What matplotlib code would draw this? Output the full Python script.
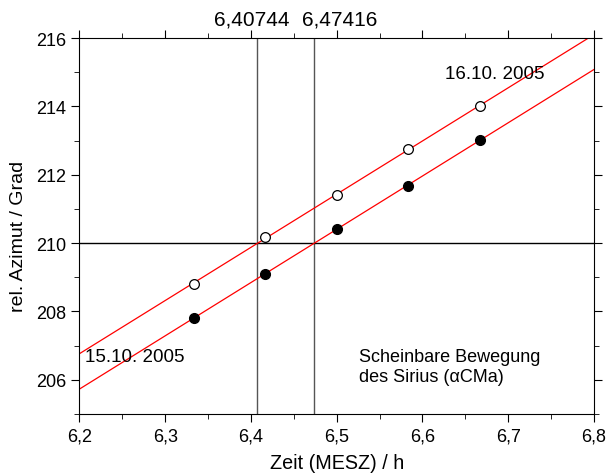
import numpy as np
import matplotlib.pyplot as plt
from matplotlib.ticker import MultipleLocator, FuncFormatter

plt.rcParams['font.family'] = ['Liberation Sans', 'DejaVu Sans']

# Messzeiten (h) und relatives Azimut (Grad)
zeit = [6.3333, 6.4167, 6.5, 6.5833, 6.6667]
azimut_16 = [208.81, 210.18, 211.41, 212.75, 214.01]  # offene Kreise
azimut_15 = [207.81, 209.10, 210.42, 211.67, 213.02]  # volle Kreise
t_schnitt = [6.40744, 6.47416]
az_ref = 210

fig = plt.figure(figsize=(6.06, 4.77), dpi=100)
ax = fig.add_axes([0.131, 0.130, 0.849, 0.788])

xs = np.array([6.2, 6.8])
for az in (azimut_16, azimut_15):
    p = np.polyfit(zeit, az, 1)
    ax.plot(xs, np.polyval(p, xs), color='red', lw=0.9, zorder=2)

ax.plot(zeit, azimut_16, 'o', mfc='white', mec='black', ms=7, mew=0.9, zorder=3)
ax.plot(zeit, azimut_15, 'o', mfc='black', mec='black', ms=7, zorder=3)

for t in t_schnitt:
    ax.axvline(t, color='#555555', lw=1.0, zorder=1)
ax.axhline(az_ref, color='black', lw=1.0, zorder=1)

ax.set_xlim(6.2, 6.8)
ax.set_ylim(205, 216)
ax.xaxis.set_major_locator(MultipleLocator(0.1))
ax.xaxis.set_minor_locator(MultipleLocator(0.05))
ax.yaxis.set_minor_locator(MultipleLocator(1))
ax.set_yticks([206, 208, 210, 212, 214, 216])
ax.xaxis.set_major_formatter(FuncFormatter(lambda v, p: f'{v:.1f}'.replace('.', ',')))
ax.tick_params(which='both', direction='out', top=True, right=True, labelsize=13)
ax.tick_params(which='major', length=6)
ax.tick_params(which='minor', length=3.5)

# Schnittzeiten oben
for t, dx in zip(t_schnitt, (-0.006, 0.029)):
    ax.text(t + dx, 1.05, f'{t:.5f}'.replace('.', ','), fontsize=15,
            ha='center', va='center',
            transform=ax.get_xaxis_transform())

ax.set_xlabel('Zeit (MESZ) / h', fontsize=14.2, labelpad=6)
ax.set_ylabel('rel. Azimut / Grad', fontsize=14)
ax.yaxis.set_label_coords(-0.101, 0.476)

ax.text(6.626, 214.95, '16.10. 2005', fontsize=13.5, va='center')
ax.text(6.206, 206.67, '15.10. 2005', fontsize=13.5, va='center')
ax.text(6.526, 206.4, 'Scheinbare Bewegung\ndes Sirius (αCMa)',
        fontsize=13, linespacing=1.25, va='center')

fig.savefig('out.png', dpi=100)
